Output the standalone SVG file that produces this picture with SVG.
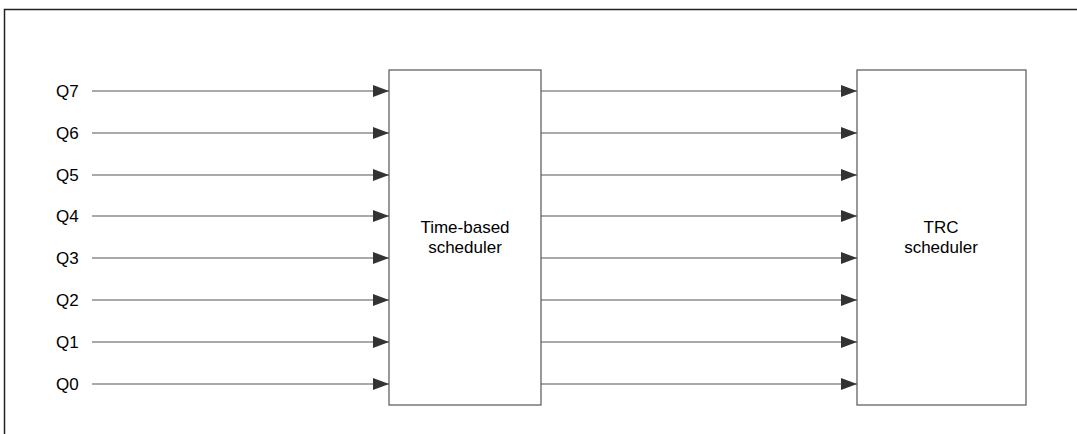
<svg xmlns="http://www.w3.org/2000/svg" width="1077" height="434" viewBox="0 0 1077 434">
<style>
.b{fill:#fff;stroke:#555;stroke-width:1.2}
.l{stroke:#555;stroke-width:1.2;fill:none}
text{font-family:"Liberation Sans",Arial,sans-serif;font-size:17px;fill:#000}
</style>
<defs><marker id="a" markerWidth="16" markerHeight="12" refX="16" refY="6" orient="auto" markerUnits="userSpaceOnUse"><path d="M0,0L16,6L0,12z" fill="#333"/></marker></defs>
<rect width="1077" height="434" fill="#fff"/>
<rect x="4.5" y="9.5" width="1080" height="440" fill="none" stroke="#222" stroke-width="1.5"/>
<g id="tbs"><rect class="b" x="389" y="70" width="152" height="335"/><text x="465" y="233" text-anchor="middle">Time-based</text><text x="465" y="253" text-anchor="middle">scheduler</text></g>
<g id="trc"><rect class="b" x="857" y="70" width="169" height="335"/><text x="941" y="233" text-anchor="middle">TRC</text><text x="941" y="253" text-anchor="middle">scheduler</text></g>
<g id="labels">
<text x="56" y="97">Q7</text><text x="56" y="139">Q6</text><text x="56" y="181">Q5</text><text x="56" y="222">Q4</text><text x="56" y="264">Q3</text><text x="56" y="306">Q2</text><text x="56" y="348">Q1</text><text x="56" y="390">Q0</text>
</g>
<g id="connectors" class="l">
<path d="M92,91H389" marker-end="url(#a)"/><path d="M92,133H389" marker-end="url(#a)"/><path d="M92,175H389" marker-end="url(#a)"/><path d="M92,216H389" marker-end="url(#a)"/><path d="M92,258H389" marker-end="url(#a)"/><path d="M92,300H389" marker-end="url(#a)"/><path d="M92,342H389" marker-end="url(#a)"/><path d="M92,384H389" marker-end="url(#a)"/>
<path d="M541,91H857" marker-end="url(#a)"/><path d="M541,133H857" marker-end="url(#a)"/><path d="M541,175H857" marker-end="url(#a)"/><path d="M541,216H857" marker-end="url(#a)"/><path d="M541,258H857" marker-end="url(#a)"/><path d="M541,300H857" marker-end="url(#a)"/><path d="M541,342H857" marker-end="url(#a)"/><path d="M541,384H857" marker-end="url(#a)"/>
</g>
</svg>
